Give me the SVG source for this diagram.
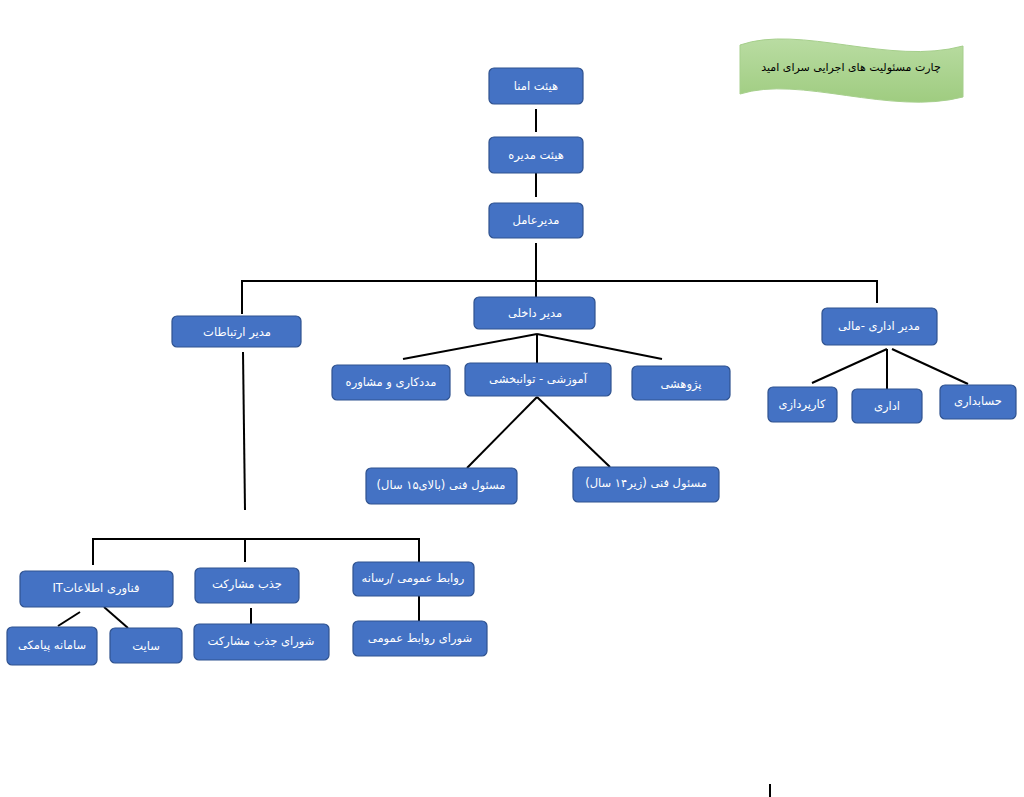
<svg xmlns="http://www.w3.org/2000/svg" width="1024" height="797" viewBox="0 0 1024 797">
<style>
.box{fill:#4472C4;stroke:#2F528F;stroke-width:1.2}
.lbl{fill:#ffffff;font-family:"DejaVu Sans","Noto Sans",sans-serif;font-size:11.5px;text-anchor:middle;dominant-baseline:central}
.ln{stroke:#000;stroke-width:2;fill:none}
.title{fill:#000;font-family:"DejaVu Sans","Noto Sans",sans-serif;font-size:11px;text-anchor:middle;dominant-baseline:central}
</style>
<defs>
<linearGradient id="g" x1="0" y1="0" x2="0" y2="1">
<stop offset="0" stop-color="#B9DCA2"/>
<stop offset="1" stop-color="#9FCC80"/>
</linearGradient>
</defs>
<rect width="1024" height="797" fill="#fff"/>
<g id="title">
<path d="M740,45 C800,24 890,66 963,46 L963,97 C890,116 800,75 740,94 Z" fill="url(#g)" stroke="#A6CF8C" stroke-width="1"/>
<text class="title" x="851" y="67" direction="rtl">چارت مسئولیت های اجرایی سرای امید</text>
</g>
<g id="connectors">
<line class="ln" x1="536" y1="109" x2="536" y2="132"/>
<line class="ln" x1="536" y1="173" x2="536" y2="197"/>
<line class="ln" x1="536" y1="243" x2="536" y2="298"/>
<polyline class="ln" points="242,314 242,281 877,281 877,303"/>
<line class="ln" x1="537" y1="334" x2="403" y2="359"/>
<line class="ln" x1="537" y1="334" x2="537" y2="363"/>
<line class="ln" x1="537" y1="334" x2="662" y2="359"/>
<line class="ln" x1="537" y1="397" x2="467" y2="468"/>
<line class="ln" x1="537" y1="397" x2="610" y2="467"/>
<line class="ln" x1="887" y1="349" x2="812" y2="383"/>
<line class="ln" x1="887" y1="349" x2="887" y2="389"/>
<line class="ln" x1="892" y1="349" x2="968" y2="384"/>
<line class="ln" x1="243" y1="352" x2="245" y2="510"/>
<polyline class="ln" points="93,565 93,539 419,539 419,562"/>
<line class="ln" x1="245" y1="539" x2="245" y2="562"/>
<line class="ln" x1="80" y1="612" x2="58" y2="626"/>
<line class="ln" x1="104" y1="607" x2="128" y2="628"/>
<line class="ln" x1="251" y1="608" x2="251" y2="624"/>
<line class="ln" x1="419" y1="596" x2="419" y2="621"/>
<line class="ln" x1="770" y1="784" x2="770" y2="797"/>
</g>
<g id="n1"><rect class="box" x="489" y="68" width="94" height="36" rx="5"/><text class="lbl" x="536" y="86" direction="rtl">هیئت امنا</text></g>
<g id="n2"><rect class="box" x="489" y="137" width="94" height="36" rx="5"/><text class="lbl" x="536" y="155" direction="rtl">هیئت مدیره</text></g>
<g id="n3"><rect class="box" x="489" y="203" width="94" height="35" rx="5"/><text class="lbl" x="536" y="220" direction="rtl">مدیرعامل</text></g>
<g id="n4"><rect class="box" x="172" y="316" width="129" height="31" rx="5"/><text class="lbl" x="237" y="332" direction="rtl">مدیر ارتباطات</text></g>
<g id="n5"><rect class="box" x="474" y="297" width="121" height="32" rx="5"/><text class="lbl" x="535" y="313" direction="rtl">مدیر داخلی</text></g>
<g id="n6"><rect class="box" x="822" y="308" width="115" height="37" rx="5"/><text class="lbl" x="879" y="326" direction="rtl">مدیر اداری -مالی</text></g>
<g id="n7"><rect class="box" x="332" y="365" width="118" height="35" rx="5"/><text class="lbl" x="391" y="382" direction="rtl">مددکاری و مشاوره</text></g>
<g id="n8"><rect class="box" x="465" y="363" width="146" height="33" rx="5"/><text class="lbl" x="538" y="379" direction="rtl">آموزشی - توانبخشی</text></g>
<g id="n9"><rect class="box" x="632" y="366" width="98" height="34" rx="5"/><text class="lbl" x="681" y="384" direction="rtl">پژوهشی</text></g>
<g id="n10"><rect class="box" x="768" y="387" width="69" height="35" rx="5"/><text class="lbl" x="802" y="404" direction="rtl">کارپردازی</text></g>
<g id="n11"><rect class="box" x="852" y="389" width="70" height="34" rx="5"/><text class="lbl" x="887" y="406" direction="rtl">اداری</text></g>
<g id="n12"><rect class="box" x="940" y="385" width="76" height="34" rx="5"/><text class="lbl" x="978" y="401" direction="rtl">حسابداری</text></g>
<g id="n13"><rect class="box" x="366" y="468" width="151" height="36" rx="5"/><text class="lbl" x="441" y="485" direction="rtl">مسئول فنی (بالای۱۵ سال)</text></g>
<g id="n14"><rect class="box" x="573" y="467" width="146" height="35" rx="5"/><text class="lbl" x="646" y="483" direction="rtl">مسئول فنی (زیر۱۴ سال)</text></g>
<g id="n15"><rect class="box" x="20" y="571" width="153" height="36" rx="5"/><text class="lbl" x="96" y="588" direction="rtl">فناوری اطلاعاتIT</text></g>
<g id="n16"><rect class="box" x="195" y="568" width="104" height="35" rx="5"/><text class="lbl" x="247" y="584" direction="rtl">جذب مشارکت</text></g>
<g id="n17"><rect class="box" x="353" y="562" width="121" height="34" rx="5"/><text class="lbl" x="413" y="578" direction="rtl">روابط عمومی /رسانه</text></g>
<g id="n18"><rect class="box" x="7" y="627" width="90" height="38" rx="5"/><text class="lbl" x="52" y="645" direction="rtl">سامانه پیامکی</text></g>
<g id="n19"><rect class="box" x="110" y="628" width="72" height="35" rx="5"/><text class="lbl" x="146" y="646" direction="rtl">سایت</text></g>
<g id="n20"><rect class="box" x="194" y="624" width="135" height="36" rx="5"/><text class="lbl" x="261" y="641" direction="rtl">شورای جذب مشارکت</text></g>
<g id="n21"><rect class="box" x="353" y="621" width="134" height="35" rx="5"/><text class="lbl" x="420" y="638" direction="rtl">شورای روابط عمومی</text></g>
</svg>
